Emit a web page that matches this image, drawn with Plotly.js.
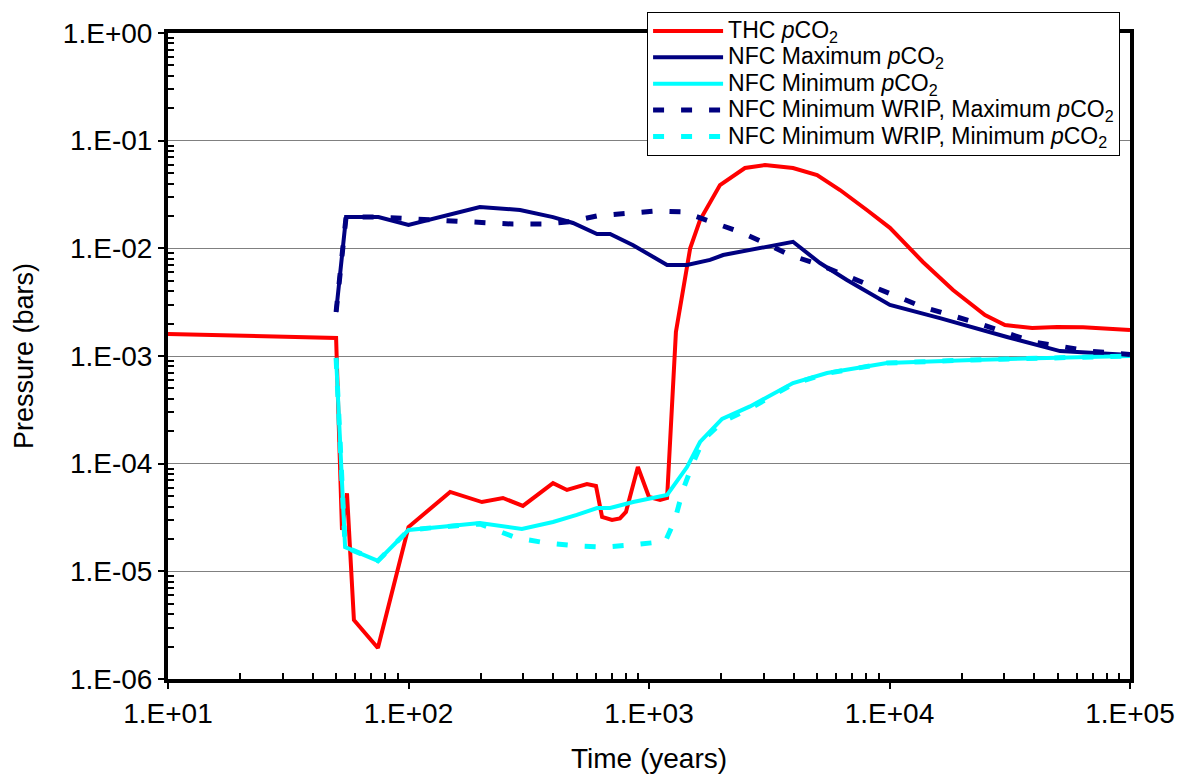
<!DOCTYPE html>
<html>
<head>
<meta charset="utf-8">
<script src="https://cdn.plot.ly/plotly-3.0.1.min.js"></script>
<style>
  html, body { margin: 0; padding: 0; background: #ffffff; }
  #chart { width: 1177px; height: 776px; }
</style>
</head>
<body>
<div id="chart"></div>
<script>
// ---- Data ----
const thcX = [10, 50, 52.9, 55.5, 59.3, 74.6, 100, 149, 202, 247, 299, 399, 456, 552, 602, 638, 702, 757, 802, 899, 1000, 1112, 1189, 1294, 1483, 1630, 1973, 2506, 3035, 3970, 5000, 6227, 8050, 10040, 13770, 18370, 24950, 30200, 39200, 49800, 63800, 100000];
const thcY = [1.6e-3, 1.47e-3, 2.42e-5, 5.3e-5, 3.53e-6, 1.94e-6, 2.58e-5, 5.46e-5, 4.4e-5, 4.8e-5, 4.05e-5, 6.6e-5, 5.7e-5, 6.46e-5, 6.2e-5, 3.2e-5, 3.0e-5, 3.1e-5, 3.56e-5, 9.3e-5, 4.9e-5, 4.6e-5, 4.8e-5, 1.67e-3, 1.0e-2, 1.83e-2, 3.87e-2, 5.57e-2, 5.94e-2, 5.57e-2, 4.8e-2, 3.48e-2, 2.27e-2, 1.55e-2, 7.47e-3, 4.1e-3, 2.4e-3, 1.94e-3, 1.82e-3, 1.86e-3, 1.85e-3, 1.74e-3];

const nfcMaxX = [50, 55, 75, 100, 198, 291, 399, 483, 608, 689, 859, 1189, 1439, 1794, 2033, 3970, 5140, 6650, 10040, 16200, 30800, 51200, 100000];
const nfcMaxY = [2.56e-3, 1.95e-2, 1.95e-2, 1.65e-2, 2.42e-2, 2.27e-2, 1.95e-2, 1.72e-2, 1.36e-2, 1.36e-2, 1.07e-2, 7.0e-3, 7.0e-3, 7.8e-3, 8.67e-3, 1.15e-2, 7.3e-3, 5.08e-3, 2.98e-3, 2.25e-3, 1.5e-3, 1.11e-3, 1.02e-3];

const nfcMinX = [50, 54.5, 74.6, 100, 135, 198, 296, 399, 501, 608, 689, 859, 1189, 1439, 1630, 2013, 2631, 3970, 5500, 9770, 22200, 100000];
const nfcMinY = [9.6e-4, 1.68e-5, 1.25e-5, 2.42e-5, 2.58e-5, 2.81e-5, 2.47e-5, 2.87e-5, 3.34e-5, 3.87e-5, 3.87e-5, 4.4e-5, 5.12e-5, 9.3e-5, 1.59e-4, 2.6e-4, 3.4e-4, 5.61e-4, 6.95e-4, 8.6e-4, 9.2e-4, 1.0e-3];

const wripMaxX = [50, 55, 75, 100, 119, 159, 204, 272, 363, 470, 608, 809, 1059, 1384, 1828, 2389, 3035, 3855, 5140, 8530, 13770, 23100, 39600, 68200, 100000];
const wripMaxY = [2.56e-3, 1.95e-2, 1.95e-2, 1.88e-2, 1.87e-2, 1.76e-2, 1.72e-2, 1.68e-2, 1.68e-2, 1.77e-2, 2.0e-2, 2.13e-2, 2.22e-2, 2.18e-2, 1.76e-2, 1.42e-2, 1.12e-2, 8.67e-3, 7.0e-3, 4.38e-3, 2.85e-3, 2.03e-3, 1.35e-3, 1.11e-3, 1.03e-3];

const wripMinX = [50, 54.5, 74.6, 100, 135, 198, 282, 377, 501, 644, 859, 1112, 1170, 1281, 1384, 1524, 1678, 2013, 2631, 3970, 5500, 9770, 22200, 100000];
const wripMinY = [9.6e-4, 1.68e-5, 1.25e-5, 2.42e-5, 2.58e-5, 2.75e-5, 2.04e-5, 1.83e-5, 1.72e-5, 1.68e-5, 1.76e-5, 1.87e-5, 1.9e-5, 3.0e-5, 5.7e-5, 1.01e-4, 1.66e-4, 2.44e-4, 3.25e-4, 5.5e-4, 6.9e-4, 8.6e-4, 9.2e-4, 1.0e-3];

const seriesNames = [
  'THC <i>p</i>CO<sub>2</sub>',
  'NFC Maximum <i>p</i>CO<sub>2</sub>',
  'NFC Minimum <i>p</i>CO<sub>2</sub>',
  'NFC Minimum WRIP, Maximum <i>p</i>CO<sub>2</sub>',
  'NFC Minimum WRIP, Minimum <i>p</i>CO<sub>2</sub>'
];

const xTickVals = [10, 100, 1000, 10000, 100000];
const xTickText = ['1.E+01', '1.E+02', '1.E+03', '1.E+04', '1.E+05'];
const yTickVals = [1e-6, 1e-5, 1e-4, 1e-3, 1e-2, 1e-1, 1];
const yTickText = ['1.E-06', '1.E-05', '1.E-04', '1.E-03', '1.E-02', '1.E-01', '1.E+00'];

// minor ticks at 2..9 within each decade
function minorTicks(decades) {
  const out = [];
  for (let i = 0; i < decades.length - 1; i++) {
    for (let m = 2; m <= 9; m++) out.push(decades[i] * m);
  }
  return out;
}
const xMinor = minorTicks(xTickVals);
const yMinor = minorTicks(yTickVals);

// legend labels: larger glyphs inside a compact row height
const legendLabel = s => '<span style="font-size:23px">' + s + '</span>';

// ---- Traces ----
const RED = '#FF0000', NAVY = '#000080', CYAN = '#00FFFF';
const DASH = '11px,17px';
const traces = [
  {x: thcX, y: thcY, name: legendLabel(seriesNames[0]), mode: 'lines', line: {color: RED, width: 4}},
  {x: nfcMaxX, y: nfcMaxY, name: legendLabel(seriesNames[1]), mode: 'lines', line: {color: NAVY, width: 4}},
  {x: nfcMinX, y: nfcMinY, name: legendLabel(seriesNames[2]), mode: 'lines', line: {color: CYAN, width: 4}},
  {x: wripMaxX, y: wripMaxY, name: legendLabel(seriesNames[3]), mode: 'lines', line: {color: NAVY, width: 5, dash: DASH}},
  {x: wripMinX, y: wripMinY, name: legendLabel(seriesNames[4]), mode: 'lines', line: {color: CYAN, width: 5, dash: DASH}}
];

const FONT = 'Arial, "Liberation Sans", sans-serif';

const layout = {
  width: 1177,
  height: 776,
  margin: {l: 168, r: 47, t: 33, b: 97, pad: 0},
  paper_bgcolor: '#ffffff',
  plot_bgcolor: '#ffffff',
  font: {family: FONT, color: '#000000'},
  showlegend: true,
  legend: {
    x: 0.498, y: 1.033, xanchor: 'left', yanchor: 'top',
    bgcolor: '#ffffff', bordercolor: '#000000', borderwidth: 1,
    font: {family: FONT, size: 18, color: '#000000'},
    itemwidth: 70,
    traceorder: 'normal'
  },
  xaxis: {
    type: 'log',
    range: [1, 5],
    tickvals: xTickVals,
    ticktext: xTickText,
    tickfont: {family: FONT, size: 28, color: '#000000'},
    ticks: 'outside', ticklen: 6, tickwidth: 2, tickcolor: '#000000',
    minor: {tickvals: xMinor, ticks: 'inside', ticklen: 6, tickwidth: 2, tickcolor: '#000000', showgrid: false},
    showgrid: false, zeroline: false,
    showline: true, linecolor: '#000000', linewidth: 4, mirror: true,
    title: {text: 'Time (years)', font: {family: FONT, size: 28, color: '#000000'}, standoff: 22}
  },
  yaxis: {
    type: 'log',
    range: [-6, 0],
    tickvals: yTickVals,
    ticktext: yTickText,
    tickfont: {family: FONT, size: 28, color: '#000000'},
    ticks: 'outside', ticklen: 6, tickwidth: 2, tickcolor: '#000000',
    minor: {tickvals: yMinor, ticks: 'inside', ticklen: 6, tickwidth: 2, tickcolor: '#000000', showgrid: false},
    showgrid: true, gridcolor: '#808080', gridwidth: 1,
    zeroline: false,
    showline: true, linecolor: '#000000', linewidth: 4, mirror: true,
    title: {text: 'Pressure (bars)', font: {family: FONT, size: 27, color: '#000000'}, standoff: 22}
  }
};

Plotly.newPlot('chart', traces, layout, {displayModeBar: false, staticPlot: true});
</script>
</body>
</html>
